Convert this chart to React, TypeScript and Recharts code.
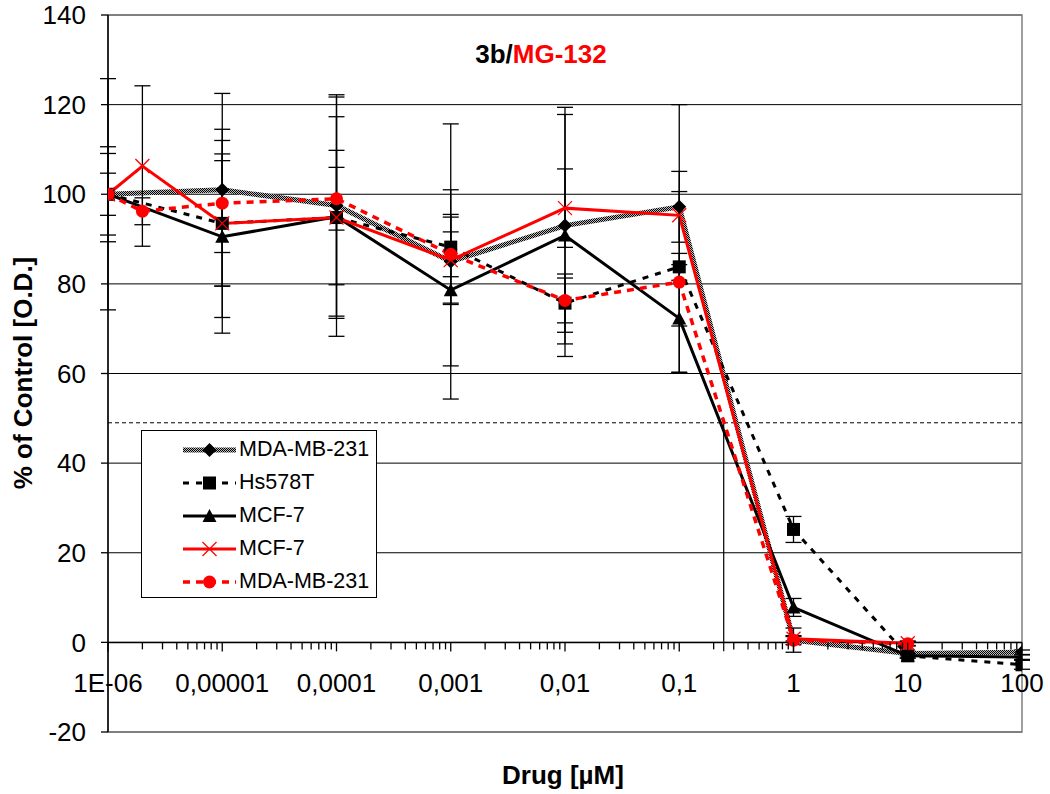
import React from "react";
import {
  LineChart,
  Line,
  XAxis,
  YAxis,
  CartesianGrid,
  ErrorBar,
  ReferenceLine,
  ReferenceArea,
  Legend,
} from "recharts";

// doses (µM); the red series start with an extra 2E-06 point and stop at 10
const blackDoses = [1e-6, 1e-5, 1e-4, 1e-3, 1e-2, 0.1, 1, 10, 100];
const redDoses = [1e-6, 2e-6, 1e-5, 1e-4, 1e-3, 1e-2, 0.1, 1, 10];

const mdaBlack = [100, 101, 97.5, 85, 93, 97.2, 0.5, -2.5, -2.2];
const mdaBlackErr = [4.7, 21.5, 24.7, 30.7, 26.4, 7.9, 1, 0.5, 0.5];

const hs578t = [100, 93.5, 94.8, 88.2, 75.7, 83.8, 25.2, -3, -5];
const hs578tErr = [9.1, 14, 22.5, 12.8, 6.5, 3, 2.9, 0.5, 1];

const mcf7Black = [100, 90.5, 95, 78.6, 90.8, 72.3, 7.8, -3, -3.3];
const mcf7BlackErr = [25.8, 21.5, 26.7, 16.9, 27, 12, 2, 0.5, 0.5];

const mcf7Red = [100, 106.3, 93.5, 94.8, 85.3, 96.9, 95.3, 0.8, -0.2];
const mcf7RedErr = [10.6, 17.9, 21, 15, 9.6, 8.75, 24.7, 0.5, 0.5];

const mdaRed = [100, 96.2, 98, 99, 86.6, 76.3, 80.4, 0.5, -0.3];
const mdaRedErr = [0, 3, 11, 7, 5, 5, 20.2, 2.7, 0.5];

const decadeTicks = [1e-6, 1e-5, 1e-4, 1e-3, 1e-2, 0.1, 1, 10, 100];
const decadeLabels = ["1E-06", "0,00001", "0,0001", "0,001", "0,01", "0,1", "1", "10", "100"];
const minorSteps = [2, 3, 4, 5, 6, 7, 8, 9];
const yTicks = [-20, 0, 20, 40, 60, 80, 100, 120, 140];

const ic50 = 0.245;
const halfLevel = 49;

const FONT = "'Liberation Sans', Arial, sans-serif";
const W = 1050;
const H = 794;
const M = { top: 15, right: 28, bottom: 0, left: 0 };
const Y_AXIS_W = 108;
const X_AXIS_H = 62;
const PLOT_H = H - M.top - M.bottom - X_AXIS_H;
const Y_MIN = -20;
const Y_MAX = 140;

const allXTicks = [
  ...decadeTicks,
  ...decadeTicks.slice(0, -1).flatMap((d) => minorSteps.map((k) => d * k)),
].sort((a, b) => a - b);

type Marker = "diamond" | "square" | "triangle" | "cross" | "circle";

const series = [
  { name: "MDA-MB-231", doses: blackDoses, values: mdaBlack, errors: mdaBlackErr, stroke: "url(#dither)", width: 5, dash: undefined as string | undefined, marker: "diamond" as Marker },
  { name: "Hs578T", doses: blackDoses, values: hs578t, errors: hs578tErr, stroke: "#000", width: 3, dash: "6 7", marker: "square" as Marker },
  { name: "MCF-7", doses: blackDoses, values: mcf7Black, errors: mcf7BlackErr, stroke: "#000", width: 3, dash: undefined, marker: "triangle" as Marker },
  { name: "MCF-7", doses: redDoses, values: mcf7Red, errors: mcf7RedErr, stroke: "#ff0000", width: 3, dash: undefined, marker: "cross" as Marker },
  { name: "MDA-MB-231", doses: redDoses, values: mdaRed, errors: mdaRedErr, stroke: "#ff0000", width: 3.5, dash: "7 6", marker: "circle" as Marker },
];

function MarkerShape({ type, cx, cy }: { type: Marker; cx: number; cy: number }) {
  if (cx == null || cy == null) return null;
  switch (type) {
    case "diamond":
      return <path d={`M${cx},${cy - 7}L${cx + 7},${cy}L${cx},${cy + 7}L${cx - 7},${cy}Z`} fill="#000" />;
    case "square":
      return <rect x={cx - 6.5} y={cy - 6.5} width={13} height={13} fill="#000" />;
    case "triangle":
      return <path d={`M${cx},${cy - 7}L${cx + 7},${cy + 6}L${cx - 7},${cy + 6}Z`} fill="#000" />;
    case "cross":
      return (
        <g stroke="#ff0000" strokeWidth={1.3}>
          <line x1={cx - 7} y1={cy - 7} x2={cx + 7} y2={cy + 7} />
          <line x1={cx - 7} y1={cy + 7} x2={cx + 7} y2={cy - 7} />
        </g>
      );
    case "circle":
      return <circle cx={cx} cy={cy} r={6.5} fill="#ff0000" />;
  }
}

function DoseTick(props: any) {
  const { x, y, payload } = props;
  const zeroY = y - ((0 - Y_MIN) / (Y_MAX - Y_MIN)) * PLOT_H;
  const idx = decadeTicks.findIndex((d) => Math.abs(d - payload.value) / d < 1e-6);
  const major = idx >= 0;
  return (
    <g>
      <line x1={x} x2={x} y1={zeroY} y2={zeroY + (major ? 9 : 7)} stroke="#000" strokeWidth={1.3} />
      {major && (
        <text x={x} y={zeroY + 50} textAnchor="middle" fontSize={26} fontFamily={FONT} fill="#000">
          {decadeLabels[idx]}
        </text>
      )}
    </g>
  );
}

function LegendBox() {
  return (
    <div
      style={{
        width: 236,
        height: 168,
        border: "1.5px solid #000",
        background: "#fff",
        boxSizing: "border-box",
        paddingTop: 2,
      }}
    >
      {series.map((s, i) => (
        <div key={i} style={{ display: "flex", alignItems: "center", height: 33 }}>
          <svg width={96} height={20} style={{ flex: "none" }}>
            <line
              x1={41}
              x2={94}
              y1={10}
              y2={10}
              stroke={s.stroke}
              strokeWidth={s.width}
              strokeDasharray={s.dash}
            />
            <MarkerShape type={s.marker} cx={67.5} cy={10} />
          </svg>
          <span style={{ fontFamily: FONT, fontSize: 21.5, color: "#000", marginLeft: 1 }}>{s.name}</span>
        </div>
      ))}
    </div>
  );
}

export default function App() {
  return (
    <div style={{ position: "absolute", left: 0, top: 0, width: W, height: H, background: "#fff" }}>
      <svg width={0} height={0} style={{ position: "absolute" }}>
        <defs>
          <pattern id="dither" width={2} height={2} patternUnits="userSpaceOnUse">
            <rect width={2} height={2} fill="#bbb" />
            <rect width={1} height={1} fill="#000" />
            <rect x={1} y={1} width={1} height={1} fill="#000" />
          </pattern>
        </defs>
      </svg>
      <LineChart width={W} height={H} margin={M}>
        <CartesianGrid vertical={false} stroke="#000" strokeWidth={1} />
        <ReferenceArea
          x1={1e-6}
          x2={100}
          y1={Y_MIN}
          y2={Y_MAX}
          fill="none"
          stroke="#808080"
          strokeWidth={1.5}
          fillOpacity={0}
        />
        <XAxis
          dataKey="dose"
          type="number"
          scale="log"
          domain={[1e-6, 100]}
          ticks={allXTicks}
          interval={0}
          allowDataOverflow
          axisLine={false}
          tickLine={false}
          tickSize={0}
          tickMargin={0}
          height={X_AXIS_H}
          tick={<DoseTick />}
        />
        <YAxis
          type="number"
          domain={[Y_MIN, Y_MAX]}
          ticks={yTicks}
          interval={0}
          allowDataOverflow
          width={Y_AXIS_W}
          axisLine={{ stroke: "#000", strokeWidth: 1.5 }}
          tickLine={{ stroke: "#000", strokeWidth: 1.3 }}
          tickSize={7}
          tickMargin={15}
          tick={{ fontSize: 26, fontFamily: FONT, fill: "#000" }}
        />
        <ReferenceLine y={0} stroke="#000" strokeWidth={1.5} />
        <ReferenceLine y={halfLevel} stroke="#000" strokeWidth={1} strokeDasharray="4 3" />
        <ReferenceLine
          segment={[
            { x: ic50, y: halfLevel },
            { x: ic50, y: -2 },
          ]}
          stroke="#000"
          strokeWidth={1.2}
        />
        {series.map((s, i) => (
          <Line
            key={i}
            data={s.doses.map((d, j) => ({ dose: d, value: s.values[j], err: s.errors[j] }))}
            dataKey="value"
            name={s.name}
            type="linear"
            stroke={s.stroke}
            strokeWidth={s.width}
            strokeDasharray={s.dash}
            isAnimationActive={false}
            activeDot={false}
            dot={(p: any) => <MarkerShape key={`m${i}-${p.index}`} type={s.marker} cx={p.cx} cy={p.cy} />}
          >
            <ErrorBar
              dataKey="err"
              direction="y"
              width={8}
              stroke="#000"
              strokeWidth={1.3}
              isAnimationActive={false}
            />
          </Line>
        ))}
        <Legend
          layout="horizontal"
          verticalAlign="middle"
          align="center"
          content={() => <LegendBox />}
          wrapperStyle={{ left: 141, top: 430, width: 236, height: 168 }}
        />
      </LineChart>
      <svg
        width={W}
        height={H}
        style={{ position: "absolute", left: 0, top: 0, pointerEvents: "none" }}
      >
        <text x={541} y={63} textAnchor="middle" fontFamily={FONT} fontWeight="bold" fontSize={26}>
          <tspan fill="#000">3b/</tspan>
          <tspan fill="#ff0000">MG-132</tspan>
        </text>
        <text
          x={32}
          y={373}
          transform="rotate(-90 32 373)"
          textAnchor="middle"
          fontFamily={FONT}
          fontWeight="bold"
          fontSize={26}
          fill="#000"
        >
          % of Control [O.D.]
        </text>
        <text x={563} y={784} textAnchor="middle" fontFamily={FONT} fontWeight="bold" fontSize={26} fill="#000">
          Drug [µM]
        </text>
      </svg>
    </div>
  );
}
